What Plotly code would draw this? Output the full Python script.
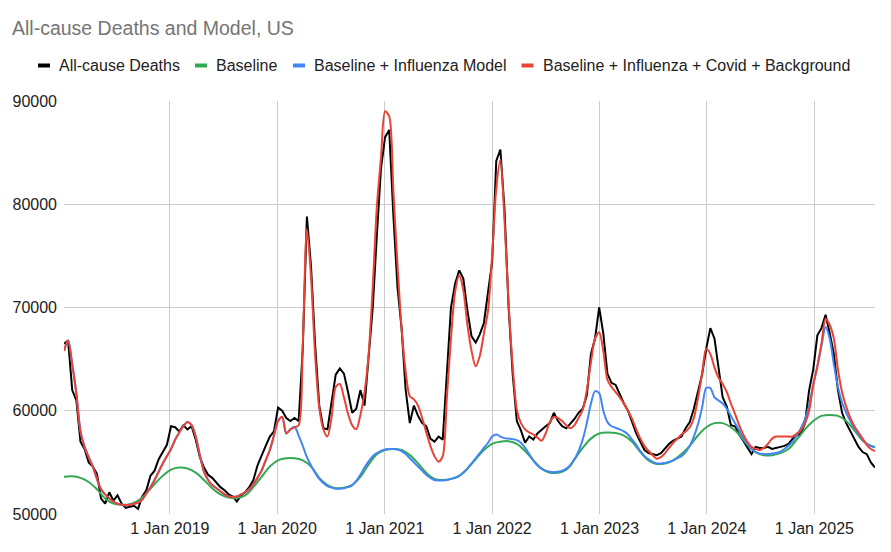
import pandas as pd
import plotly.graph_objects as go

# biweekly sample points (week ending dates), Jan 2018 .. Jul 2025
weeks = pd.date_range("2018-01-06", periods=198, freq="14D")
# baseline read every 4 weeks
weeks4 = pd.date_range("2018-01-06", periods=100, freq="28D")

deaths = [66500, 66800, 62000, 61000, 57000, 56300, 55000, 54600, 53900, 51500,
          51000, 52100, 51300, 51800, 51000, 50600, 50700, 50800, 50500, 51700,
          52300, 53700, 54200, 55300, 56000, 56700, 58500, 58400, 58000, 58600,
          58200, 58500, 57200, 55500, 54500, 53800, 53500, 53000, 52600, 52300,
          51900, 51700, 51200, 51800, 52100, 52600, 53300, 54700, 55700, 56600,
          57500, 58000, 60300, 60000, 59300, 59000, 59300, 59000, 66000, 78800,
          74000, 66400, 60500, 58300, 58200, 60800, 63500, 64100, 63600, 61800,
          59800, 60200, 62000, 60500, 65500, 70000, 77000, 83500, 86500, 87200,
          79000, 72000, 68000, 62000, 58800, 60500, 59500, 58800, 58500, 57300,
          57000, 57500, 57200, 63500, 70000, 72300, 73600, 72800, 69700, 67200,
          66600, 67400, 68500, 71500, 74400, 84200, 85300, 79500, 70000, 63500,
          59000, 58100, 56900, 57500, 57200, 57800, 58200, 58500, 58800, 59800,
          59000, 58500, 58300, 58700, 59200, 59800, 60200, 61500, 65500, 67000,
          70000, 67500, 63600, 62700, 62500, 61600, 60700, 60000, 58900, 57800,
          57000, 56200, 55900, 55800, 55700, 55900, 56400, 56800, 57100, 57300,
          57500, 58300, 58900, 60200, 62000, 63500, 66000, 68000, 67000, 64000,
          61300, 60400, 58600, 58500, 57700, 57100, 56500, 55800, 56500, 56400,
          56400, 56500, 56300, 56400, 56500, 56600, 56800, 57300, 57600, 57800,
          58800, 62000, 64000, 67300, 68000, 69300, 67500, 65500, 62000, 59800,
          58800, 58000, 57200, 56500, 56000, 55800, 55000, 54500]

baseline = [53600, 53650, 53500, 53100, 52400, 51500, 51000, 50900, 50950, 51300,
            52000, 52900, 53700, 54300, 54500, 54400, 54000, 53300, 52500, 51900,
            51600, 51550, 51800, 52600, 53600, 54600, 55200, 55400, 55400, 55200,
            54600, 53500, 52800, 52500, 52550, 52800, 53600, 54800, 55800, 56200,
            56300, 56200, 55700, 54900, 54000, 53400, 53300, 53400, 53700, 54400,
            55300, 56200, 56800, 57000, 57050, 56800, 56100, 55200, 54400, 54000,
            54000, 54300, 55300, 56400, 57300, 57800, 57900, 57850, 57600, 57000,
            56000, 55200, 54850, 54900, 55200, 55800, 56600, 57600, 58400, 58800,
            58800, 58400, 57700, 56700, 56000, 55700, 55700, 55900, 56300, 57200,
            58200, 59000, 59500, 59600, 59500, 59000, 58100, 57100, 56600, 56400]

flu_model = [65800, 66800, 64500, 61700, 58000, 56500, 55500, 54600, 53400, 52400,
             51900, 51500, 51200, 51000, 50900, 50850, 50900, 51000, 51100, 51400,
             52000, 52600, 53300, 54100, 54900, 55600, 56300, 57200, 57900, 58500,
             58900, 58600, 57500, 55700, 54100, 53300, 52800, 52500, 52200, 51900,
             51700, 51650, 51700, 51900, 52100, 52400, 52900, 53500, 54200, 55200,
             56200, 57600, 59000, 59400, 57800, 58200, 58450, 57600, 56600, 55500,
             54700, 54000, 53400, 53000, 52700, 52550, 52450, 52450, 52500, 52600,
             52800, 53200, 53800, 54500, 55100, 55600, 55900, 56100, 56250, 56300,
             56300, 56250, 56100, 55800, 55400, 55000, 54600, 54200, 53800, 53500,
             53300, 53250, 53250, 53300, 53400, 53500, 53700, 54000, 54400, 54900,
             55400, 55900, 56400, 56900, 57500, 57700, 57500, 57350, 57300, 57250,
             57150, 56900, 56400, 55800, 55200, 54700, 54400, 54200, 54100, 54050,
             54100, 54200, 54400, 54700, 55300, 56100, 57200, 58800, 60700, 61900,
             61700, 60000, 58900, 58500, 58350, 58200, 58000, 57700, 57200, 56700,
             56100, 55600, 55300, 55050, 54900, 54900, 54950, 55050, 55200, 55400,
             55600, 56000, 56600, 57500, 58700, 60300, 62200, 62200, 61300, 61000,
             60700, 60200, 59500, 58800, 58100, 57400, 56800, 56300, 56000, 55850,
             55800, 55800, 55850, 55900, 56050, 56300, 56600, 57000, 57600, 58300,
             59200, 60500, 62600, 64300, 66300, 68100, 67000, 64500, 62300, 60800,
             59800, 59000, 58300, 57700, 57200, 56800, 56600, 56450]

full_model = [65800, 66800, 64500, 61700, 58000, 56500, 55500, 54600, 53400, 52400,
              51900, 51500, 51200, 51000, 50900, 50850, 50900, 51000, 51100, 51400,
              52000, 52600, 53300, 54100, 54900, 55600, 56300, 57200, 57900, 58500,
              58900, 58600, 57500, 55700, 54100, 53300, 52800, 52500, 52200, 51900,
              51700, 51650, 51700, 51900, 52100, 52400, 52900, 53500, 54200, 55200,
              56200, 57600, 59000, 59400, 57800, 58200, 58400, 58600, 66500, 77600,
              73000, 65400, 60300, 58200, 57500, 59400, 62300, 62600, 61300, 59700,
              58600, 58200, 59600, 61800, 65500, 72000, 79800, 84500, 89000, 88500,
              81300, 74200, 68000, 63800, 61400, 61100, 60500, 59300, 57900, 56600,
              55600, 55060, 55600, 61300, 67000, 71500, 73100, 71700, 68300, 65800,
              64300, 65300, 67500, 69700, 75000, 81500, 84300, 78500, 70400, 64300,
              60100, 58800, 58200, 57900, 57700, 57400, 57100, 57800, 58900, 59400,
              59300, 59000, 58600, 58300, 58600, 59300, 60100, 62000, 64700, 67000,
              67600, 65800, 63000, 62300, 61800, 61300, 60700, 60000, 59200, 58200,
              57300, 56600, 56100, 55700, 55350, 55500, 55900, 56400, 56900, 57300,
              57700, 58000, 58400, 59300, 61200, 63600, 66000, 65500, 64200, 63200,
              62600, 61800, 60700, 59700, 58600, 57700, 57000, 56500, 56300, 56200,
              56400, 56800, 57300, 57500, 57500, 57500, 57500, 57500, 57800, 58100,
              58800, 60000, 62500, 64300, 66500, 68900, 68300, 67000, 64000, 61800,
              60400, 59300, 58500, 57900, 57300, 56700, 56300, 56100]

names = ["All-cause Deaths", "Baseline", "Baseline + Influenza Model",
         "Baseline + Influenza + Covid + Background"]
colors = ["#000000", "#34a853", "#4285f4", "#ea4335"]

FONT = "Arial, Liberation Sans, sans-serif"
# the page body adds an 8px margin, so the figure is drawn 8px smaller
OFF = 8
W, H = 891 - OFF, 552 - OFF
L, R, T, B = 64 - OFF, 16, 101 - OFF, 38

fig = go.Figure()
fig.add_trace(go.Scatter(x=weeks, y=deaths, mode="lines", name=names[0],
                         line=dict(color=colors[0], width=2)))
fig.add_trace(go.Scatter(x=weeks4, y=baseline, mode="lines", name=names[1],
                         line=dict(color=colors[1], width=2, shape="spline", smoothing=1)))
fig.add_trace(go.Scatter(x=weeks, y=flu_model, mode="lines", name=names[2],
                         line=dict(color=colors[2], width=2, shape="spline", smoothing=0.8)))
fig.add_trace(go.Scatter(x=weeks, y=full_model, mode="lines", name=names[3],
                         line=dict(color=colors[3], width=2, shape="spline", smoothing=0.8)))


def px_x(p):
    return (p - OFF - L) / (W - L - R)


def px_y(q):
    return (H - B - (q - OFF)) / (H - T - B)


# legend drawn by hand: short dash + label
legend_x = [38, 195, 293, 521.5]
legend_y = 65.5
shapes = []
annotations = []
for i in range(4):
    shapes.append(dict(type="line", xref="paper", yref="paper",
                       x0=px_x(legend_x[i]), x1=px_x(legend_x[i] + 12),
                       y0=px_y(legend_y), y1=px_y(legend_y),
                       line=dict(color=colors[i], width=4)))
    annotations.append(dict(text=names[i], xref="paper", yref="paper",
                            x=px_x(legend_x[i] + 19), y=px_y(legend_y),
                            xanchor="left", yanchor="middle", showarrow=False,
                            font=dict(family=FONT, size=16, color="#222222")))

fig.update_layout(
    width=W, height=H,
    margin=dict(l=L, r=R, t=T, b=B, autoexpand=False),
    paper_bgcolor="white", plot_bgcolor="white",
    showlegend=False,
    title=dict(text="All-cause Deaths and Model, US", x=(12 - OFF) / W, xanchor="left",
               y=1 - (28 - OFF) / H, yanchor="middle",
               font=dict(family=FONT, size=19.5, color="#757575")),
    font=dict(family=FONT, size=16, color="#222222"),
    shapes=shapes,
    annotations=annotations,
)
fig.update_xaxes(range=["2018-01-06", "2025-07-26"], tick0="2019-01-01", dtick="M12",
                 tickformat="%-d %b %Y", showgrid=True, gridcolor="#cccccc",
                 gridwidth=1, zeroline=False, showline=False, ticks="",
                 ticklabelstandoff=3,
                 tickfont=dict(family=FONT, size=16, color="#222222"))
fig.update_yaxes(range=[50000, 90000], tickvals=[50000, 60000, 70000, 80000, 90000],
                 tickformat="d", showgrid=True, gridcolor="#cccccc", gridwidth=1,
                 zeroline=False, showline=False, ticks="",
                 ticklabelstandoff=6,
                 tickfont=dict(family=FONT, size=16, color="#222222"))

fig.write_html("out.html")
